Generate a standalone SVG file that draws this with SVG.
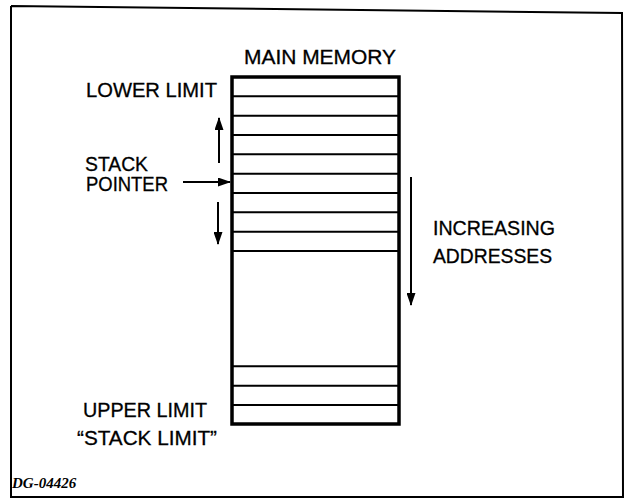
<svg xmlns="http://www.w3.org/2000/svg" width="625" height="498" viewBox="0 0 625 498">
<style>
.t{font-family:"Liberation Sans",Arial,sans-serif;font-size:20px;fill:#000;stroke:#000;stroke-width:0.3}
.c{font-family:"Liberation Serif","Times New Roman",serif;font-style:italic;font-weight:bold;font-size:15px;fill:#000}
.row{stroke:#000;stroke-width:2;fill:none}
.box{stroke:#000;stroke-width:3.5;fill:none}
.arr{stroke:#000;stroke-width:2;fill:none}
</style>
<defs>
<marker id="ah" markerWidth="13" markerHeight="9" refX="12" refY="4.5" orient="auto" markerUnits="userSpaceOnUse">
<path d="M0,0 L13,4.5 L0,9 Z" fill="#000"/>
</marker>
</defs>
<rect width="625" height="498" fill="#fff"/>
<path d="M11,6 L622,13 L623,498 M11,6 L11,497 L623,497" stroke="#000" stroke-width="2" fill="none"/>
<g id="memory">
<rect class="box" x="232" y="77" width="167" height="347"/>
<path class="row" d="M232,96.3H399 M232,115.7H399 M232,135H399 M232,154.3H399 M232,173.7H399 M232,193H399 M232,212.3H399 M232,231.7H399 M232,251H399 M232,366.3H399 M232,385.7H399 M232,405H399"/>
</g>
<g id="labels">
<text class="t" x="244" y="64" textLength="152" lengthAdjust="spacingAndGlyphs">MAIN MEMORY</text>
<text class="t" x="86" y="97" textLength="131" lengthAdjust="spacingAndGlyphs">LOWER LIMIT</text>
<text class="t" x="85" y="171" textLength="63" lengthAdjust="spacingAndGlyphs">STACK</text>
<text class="t" x="86" y="191" textLength="82" lengthAdjust="spacingAndGlyphs">POINTER</text>
<text class="t" x="433" y="235" textLength="122" lengthAdjust="spacingAndGlyphs">INCREASING</text>
<text class="t" x="433" y="263" textLength="119" lengthAdjust="spacingAndGlyphs">ADDRESSES</text>
<text class="t" x="83" y="417" textLength="124" lengthAdjust="spacingAndGlyphs">UPPER LIMIT</text>
<text class="t" x="77" y="445" textLength="140" lengthAdjust="spacingAndGlyphs">“STACK LIMIT”</text>
<text class="c" x="12" y="488">DG-04426</text>
</g>
<g id="connectors">
<line class="arr" x1="183" y1="182" x2="230" y2="182" marker-end="url(#ah)"/>
<line class="arr" x1="219" y1="163" x2="219" y2="118" marker-end="url(#ah)"/>
<line class="arr" x1="218" y1="202" x2="218" y2="244" marker-end="url(#ah)"/>
<line class="arr" x1="411" y1="177" x2="411" y2="305" marker-end="url(#ah)"/>
</g>
</svg>
